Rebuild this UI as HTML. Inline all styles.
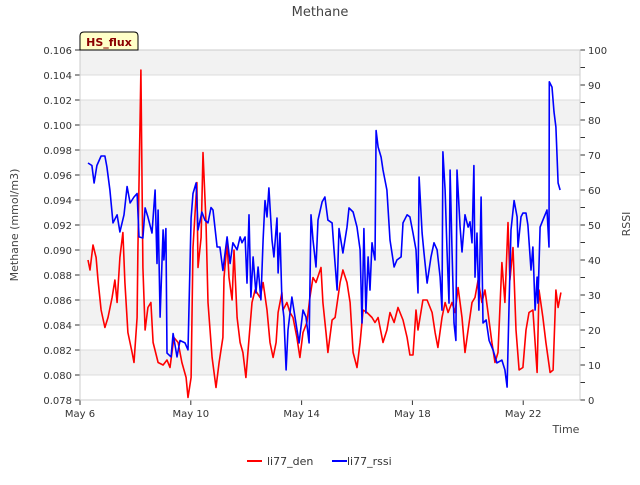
<!DOCTYPE html>
<html><head><meta charset="utf-8"><style>
body{margin:0;background:#fff;font-family:"Liberation Sans","DejaVu Sans",sans-serif}
svg text{font-family:"DejaVu Sans","Liberation Sans",sans-serif}
</style></head><body>
<svg id="chart" width="640" height="480" xmlns="http://www.w3.org/2000/svg">
<rect width="640" height="480" fill="#fff"/>
<g id="grid"></g>
<g id="axes"></g>
<g id="series"></g>
<text x="320" y="16" text-anchor="middle" font-size="13" fill="#444">Methane</text>
<text transform="translate(18,225) rotate(-90)" text-anchor="middle" font-size="11" fill="#444">Methane (mmol/m3)</text>
<text transform="translate(630,224) rotate(-90)" text-anchor="middle" font-size="11" fill="#444">RSSI</text>
<text x="566" y="433" text-anchor="middle" font-size="11" fill="#444">Time</text>
<g>
<path d="M80,50 L80,36 Q80,32 84,32 L134,32 Q138,32 138,36 L138,50 Z" fill="#ffffc8" stroke="#000" stroke-width="1"/>
<text x="109" y="46" text-anchor="middle" font-size="11" font-weight="bold" fill="#8b0000">HS_flux</text>
</g>
<g>
<g>
<line x1="247" y1="461" x2="262" y2="461" stroke="#f00" stroke-width="2"/>
<text x="267" y="465" font-size="11" fill="#333">li77_den</text></g>
<g>
<line x1="332" y1="461" x2="347" y2="461" stroke="#00f" stroke-width="2"/>
<text x="347" y="465" font-size="11" fill="#333"> li77_rssi</text></g>
</g>
</svg>
<script>
const xTickLabels=["May 6","May 10","May 14","May 18","May 22"];
const xTickDays=[0,4,8,12,16];
const yTicks=[0.078,0.080,0.082,0.084,0.086,0.088,0.090,0.092,0.094,0.096,0.098,0.100,0.102,0.104,0.106];
const y2Ticks=[0,10,20,30,40,50,60,70,80,90,100];
const denTimes=[0.29,0.36,0.47,0.58,0.65,0.76,0.90,1.01,1.16,1.26,1.34,1.44,1.55,1.62,1.73,1.88,1.95,2.06,2.09,2.20,2.27,2.35,2.45,2.56,2.64,2.82,3.00,3.14,3.25,3.39,3.54,3.68,3.83,3.90,4.01,4.08,4.22,4.26,4.37,4.44,4.55,4.62,4.77,4.91,5.02,5.16,5.20,5.31,5.38,5.49,5.56,5.67,5.78,5.88,5.99,6.06,6.21,6.32,6.50,6.61,6.75,6.86,6.97,7.08,7.15,7.29,7.33,7.47,7.58,7.69,7.83,7.94,8.05,8.19,8.30,8.41,8.52,8.70,8.77,8.88,8.95,9.10,9.21,9.39,9.49,9.64,9.75,9.86,10.00,10.11,10.22,10.36,10.54,10.65,10.76,10.94,11.08,11.19,11.34,11.48,11.66,11.81,11.91,12.02,12.13,12.20,12.38,12.53,12.71,12.82,12.92,13.07,13.18,13.29,13.43,13.54,13.65,13.79,13.90,14.01,14.15,14.26,14.37,14.51,14.62,14.73,14.87,14.98,15.09,15.23,15.34,15.45,15.52,15.63,15.74,15.85,15.99,16.10,16.21,16.35,16.50,16.57,16.71,16.82,16.97,17.08,17.18,17.26,17.36];
const denValues=[0.0892,0.0884,0.0904,0.0894,0.0876,0.0852,0.0838,0.0846,0.0862,0.0876,0.0858,0.0894,0.0914,0.0874,0.0834,0.0818,0.0810,0.0846,0.0900,0.1044,0.0886,0.0836,0.0854,0.0858,0.0826,0.0810,0.0808,0.0812,0.0806,0.0830,0.0826,0.0810,0.0798,0.0782,0.0798,0.0902,0.0954,0.0886,0.0910,0.0978,0.0922,0.0858,0.0814,0.0790,0.0810,0.0830,0.0878,0.0906,0.0878,0.0860,0.0900,0.0846,0.0826,0.0818,0.0798,0.0818,0.0858,0.0868,0.0862,0.0874,0.0852,0.0826,0.0814,0.0826,0.0850,0.0866,0.0852,0.0858,0.0850,0.0846,0.0830,0.0814,0.0834,0.0842,0.0862,0.0878,0.0874,0.0886,0.0858,0.0834,0.0818,0.0844,0.0846,0.0874,0.0884,0.0874,0.0858,0.0818,0.0806,0.0826,0.0852,0.0850,0.0846,0.0842,0.0846,0.0826,0.0836,0.0850,0.0842,0.0854,0.0844,0.0830,0.0816,0.0816,0.0852,0.0836,0.0860,0.0860,0.0850,0.0834,0.0822,0.0846,0.0858,0.0850,0.0858,0.0850,0.0870,0.0846,0.0818,0.0836,0.0858,0.0862,0.0876,0.0858,0.0868,0.0850,0.0826,0.0810,0.0818,0.0890,0.0858,0.0922,0.0876,0.0902,0.0836,0.0804,0.0806,0.0836,0.0850,0.0852,0.0802,0.0868,0.0846,0.0826,0.0802,0.0804,0.0868,0.0854,0.0866];
const rssiTimes=[0.29,0.43,0.51,0.61,0.76,0.90,0.97,1.08,1.19,1.34,1.44,1.59,1.70,1.81,1.95,2.06,2.13,2.27,2.35,2.45,2.60,2.71,2.78,2.82,2.89,3.00,3.03,3.10,3.14,3.29,3.36,3.50,3.61,3.79,3.90,4.01,4.08,4.19,4.26,4.40,4.51,4.62,4.73,4.80,4.95,5.05,5.16,5.31,5.42,5.52,5.67,5.78,5.85,5.96,6.03,6.10,6.17,6.25,6.35,6.43,6.53,6.61,6.68,6.75,6.82,6.93,7.00,7.11,7.15,7.22,7.29,7.36,7.44,7.51,7.65,7.76,7.91,8.05,8.16,8.27,8.34,8.41,8.52,8.59,8.74,8.84,8.95,9.10,9.17,9.28,9.35,9.49,9.64,9.71,9.86,10.00,10.11,10.18,10.25,10.32,10.40,10.47,10.54,10.58,10.65,10.69,10.76,10.87,10.94,11.08,11.19,11.34,11.44,11.59,11.66,11.81,11.91,12.02,12.13,12.20,12.24,12.35,12.42,12.53,12.67,12.78,12.89,13.00,13.07,13.10,13.18,13.25,13.32,13.36,13.43,13.50,13.57,13.61,13.72,13.79,13.90,14.01,14.08,14.15,14.22,14.26,14.33,14.40,14.48,14.55,14.66,14.77,14.91,15.05,15.23,15.34,15.42,15.49,15.56,15.67,15.78,15.81,15.92,15.99,16.10,16.17,16.28,16.35,16.43,16.50,16.53,16.61,16.71,16.86,16.93,16.94,17.04,17.11,17.18,17.26,17.33];
const rssiValues=[67.7,67,62,67,69.7,69.7,66.6,60,50.6,52.9,48,52.9,61,56.3,58,59,46.6,46.3,54.9,52.3,47.7,60,39,54.3,23.7,48.6,40,49,13.4,12.3,19,12.3,17,16.3,14.3,52,59,62,48.6,53.7,51.4,50.6,55,54.3,43.7,43.7,37,46.6,39,44.9,42.9,46.6,44.9,46.6,33.4,52.9,29.4,40.9,30.6,38,28.6,45.7,57,52.3,60.6,45.7,40.9,52,36.3,47.7,28.6,23.7,8.6,20,29.4,23.7,16.3,25.7,23.7,16.3,52.9,45.7,38,51.4,56.6,58,51.4,50.6,42.9,31.4,49,42,49.4,54.9,53.7,49.4,42.9,22,49,24.9,40.9,31.4,44.9,42.9,40,77,72.3,69.4,65.7,60,45.7,38,40,40.9,50.6,52.9,52.3,47.7,42.9,30.6,63.7,47.7,42,33.4,40.9,44.9,42.9,35.1,25.7,70.9,60,42.9,27.7,65.7,42.9,22,17,65.7,49.4,42.3,52.9,49.4,50.9,44.9,67,35.1,47.7,25.7,58,22,22.9,17,14.3,10.6,11.4,8.6,3.7,27.7,48.6,57,52.3,43.7,52.3,53.4,53.4,50,37.1,43.7,25.7,35.1,27.7,49.4,51.4,54.3,43.7,90.9,89.4,82.3,78,62,60];

const NS="http://www.w3.org/2000/svg";
const L=80,R=580,T=50,B=400;
const x=d=>L+d*(R-L)/18.05;
const y=v=>B-(v-0.078)/(0.106-0.078)*(B-T);
const y2=v=>B-v/100*(B-T);
function mk(tag,attrs,parent){const e=document.createElementNS(NS,tag);for(const k in attrs)e.setAttribute(k,attrs[k]);parent.appendChild(e);return e;}
const grid=document.getElementById('grid'),axes=document.getElementById('axes'),series=document.getElementById('series');
for(let i=0;i<yTicks.length-1;i++){
  if((yTicks.length-2-i)%2===0){const b=mk('rect',{x:L,y:y(yTicks[i+1]),width:R-L,height:y(yTicks[i])-y(yTicks[i+1]),fill:'#f2f2f2'},grid);
  
  }
}
yTicks.forEach(v=>{const g=mk('line',{x1:L,x2:R,y1:y(v),y2:y(v),stroke:'#dcdcdc','stroke-width':1},grid);


mk('line',{x1:L-5,x2:L,y1:y(v),y2:y(v),stroke:'#333'},axes);
const t=mk('text',{x:L-8,y:y(v)+4,'text-anchor':'end','font-size':10,fill:'#333'},axes);t.textContent=v.toFixed(3);

});
y2Ticks.forEach(v=>{mk('line',{x1:R,x2:R+5,y1:y2(v),y2:y2(v),stroke:'#333'},axes);
if(v<100)mk('line',{x1:R,x2:R+5,y1:y2(v+5),y2:y2(v+5),stroke:'#333'},axes);
const t=mk('text',{x:R+8,y:y2(v)+4,'font-size':10,fill:'#333'},axes);t.textContent=v;

});
xTickDays.forEach((d,i)=>{mk('line',{x1:x(d),x2:x(d),y1:B,y2:B+5,stroke:'#333'},axes);
const t=mk('text',{x:x(d),y:B+17,'text-anchor':'middle','font-size':10,fill:'#333'},axes);t.textContent=xTickLabels[i];

});
mk('rect',{x:L,y:T,width:R-L,height:B-T,fill:'none',stroke:'#ccc'},axes);
const pd=denTimes.map((t,i)=>x(t).toFixed(1)+','+y(denValues[i]).toFixed(1)).join(' ');
const pr=rssiTimes.map((t,i)=>x(t).toFixed(1)+','+y2(rssiValues[i]).toFixed(1)).join(' ');
const l1=mk('polyline',{points:pd,fill:'none',stroke:'#f00','stroke-width':1.6,'stroke-linejoin':'round'},series);


const l2=mk('polyline',{points:pr,fill:'none',stroke:'#00f','stroke-width':1.6,'stroke-linejoin':'round'},series);


</script>
</body></html>
